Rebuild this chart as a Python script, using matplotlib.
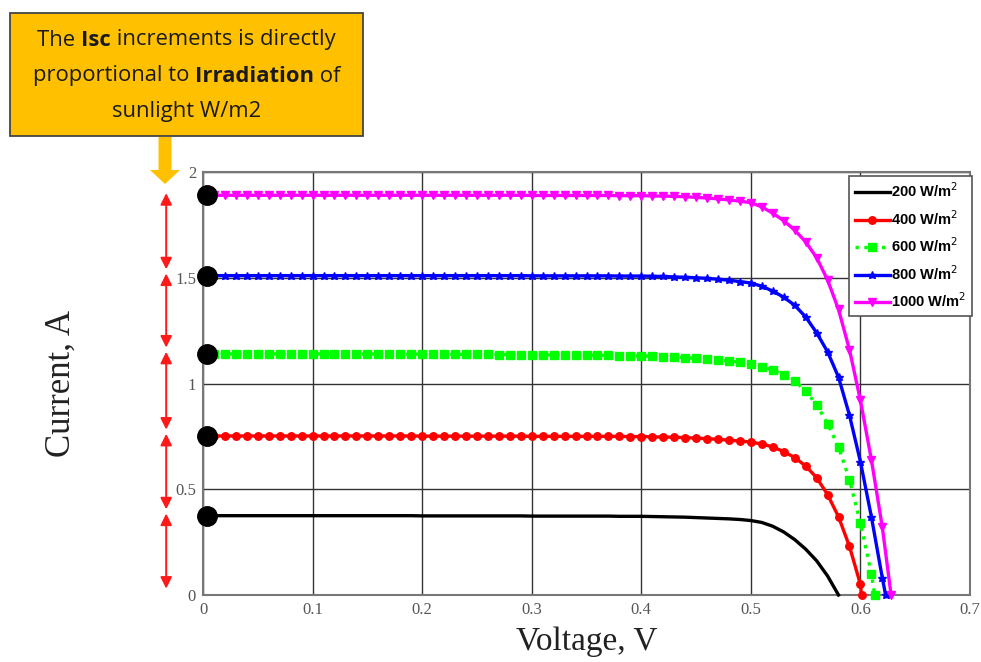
import matplotlib
matplotlib.use("Agg")
import matplotlib.pyplot as plt
from matplotlib.patches import FancyArrow, Rectangle

# Voltaje (V), paso de 0.01
voltage = [0.00, 0.01, 0.02, 0.03, 0.04, 0.05, 0.06, 0.07, 0.08, 0.09,
           0.10, 0.11, 0.12, 0.13, 0.14, 0.15, 0.16, 0.17, 0.18, 0.19,
           0.20, 0.21, 0.22, 0.23, 0.24, 0.25, 0.26, 0.27, 0.28, 0.29,
           0.30, 0.31, 0.32, 0.33, 0.34, 0.35, 0.36, 0.37, 0.38, 0.39,
           0.40, 0.41, 0.42, 0.43, 0.44, 0.45, 0.46, 0.47, 0.48, 0.49,
           0.50, 0.51, 0.52, 0.53, 0.54, 0.55, 0.56, 0.57, 0.58, 0.59,
           0.60, 0.61, 0.62]

# Corriente (A)
i_200 = [0.375, 0.375, 0.375, 0.375, 0.375, 0.375, 0.375, 0.375, 0.375, 0.375,
         0.375, 0.375, 0.375, 0.375, 0.375, 0.375, 0.375, 0.375, 0.375, 0.375,
         0.374, 0.374, 0.374, 0.374, 0.374, 0.374, 0.374, 0.374, 0.374, 0.374,
         0.373, 0.373, 0.373, 0.373, 0.373, 0.373, 0.373, 0.373, 0.372, 0.372,
         0.372, 0.371, 0.370, 0.369, 0.368, 0.366, 0.364, 0.362, 0.360, 0.357,
         0.352, 0.343, 0.325, 0.298, 0.262, 0.217, 0.162, 0.090]
i_400 = [0.752, 0.752, 0.752, 0.752, 0.752, 0.752, 0.752, 0.752, 0.752, 0.752,
         0.752, 0.752, 0.752, 0.752, 0.752, 0.752, 0.752, 0.752, 0.752, 0.752,
         0.751, 0.751, 0.751, 0.751, 0.751, 0.751, 0.751, 0.751, 0.751, 0.751,
         0.750, 0.750, 0.750, 0.750, 0.750, 0.750, 0.750, 0.750, 0.750, 0.749,
         0.749, 0.748, 0.747, 0.746, 0.744, 0.742, 0.739, 0.736, 0.732, 0.728,
         0.723, 0.714, 0.700, 0.678, 0.650, 0.610, 0.555, 0.475, 0.370, 0.230,
         0.050]
i_600 = [1.140, 1.140, 1.140, 1.140, 1.140, 1.140, 1.140, 1.140, 1.140, 1.140,
         1.140, 1.140, 1.140, 1.140, 1.140, 1.140, 1.140, 1.140, 1.139, 1.139,
         1.139, 1.139, 1.139, 1.138, 1.138, 1.138, 1.138, 1.137, 1.137, 1.137,
         1.136, 1.136, 1.135, 1.135, 1.134, 1.134, 1.133, 1.133, 1.132, 1.131,
         1.130, 1.129, 1.127, 1.125, 1.122, 1.119, 1.115, 1.111, 1.106, 1.100,
         1.094, 1.080, 1.063, 1.042, 1.013, 0.965, 0.900, 0.810, 0.700, 0.545,
         0.340, 0.100]
i_800 = [1.510, 1.510, 1.510, 1.510, 1.510, 1.510, 1.510, 1.510, 1.510, 1.510,
         1.510, 1.510, 1.510, 1.510, 1.510, 1.510, 1.510, 1.510, 1.510, 1.510,
         1.510, 1.510, 1.510, 1.510, 1.510, 1.510, 1.510, 1.510, 1.510, 1.510,
         1.509, 1.509, 1.509, 1.509, 1.509, 1.509, 1.509, 1.509, 1.508, 1.508,
         1.508, 1.507, 1.506, 1.504, 1.502, 1.500, 1.497, 1.493, 1.488, 1.482,
         1.475, 1.460, 1.437, 1.408, 1.370, 1.315, 1.240, 1.150, 1.030, 0.850,
         0.630, 0.370, 0.080]
i_1000 = [1.890, 1.890, 1.890, 1.890, 1.890, 1.890, 1.890, 1.890, 1.890, 1.890,
          1.890, 1.890, 1.890, 1.890, 1.890, 1.890, 1.890, 1.890, 1.890, 1.890,
          1.890, 1.890, 1.890, 1.890, 1.890, 1.890, 1.890, 1.890, 1.890, 1.890,
          1.889, 1.889, 1.889, 1.889, 1.889, 1.889, 1.889, 1.889, 1.888, 1.888,
          1.888, 1.887, 1.886, 1.885, 1.883, 1.880, 1.877, 1.873, 1.868, 1.862,
          1.855, 1.835, 1.805, 1.770, 1.725, 1.670, 1.595, 1.490, 1.350, 1.160,
          0.920, 0.640, 0.320]

# Voltaje de circuito abierto de cada curva
voc = [0.580, 0.601, 0.613, 0.623, 0.628]

etiquetas = ["200 W/m$^2$", "400 W/m$^2$", "600 W/m$^2$", "800 W/m$^2$", "1000 W/m$^2$"]
corrientes = [i_200, i_400, i_600, i_800, i_1000]
colores = ["#000000", "#ff0000", "#00ff00", "#0000ff", "#ff00ff"]
estilos = ["-", "-", ":", "-", "-"]
marcadores = [None, "o", "s", "*", "v"]
tamanos = [0, 5.4, 5.4, 6.2, 5.4]

fig = plt.figure(figsize=(9.81, 6.62), dpi=100)
ax = fig.add_axes([203 / 981, 67 / 662, 767 / 981, 423 / 662])

for corr, vo, lab, col, ls, mk, ms in zip(corrientes, voc, etiquetas, colores, estilos, marcadores, tamanos):
    v = voltage[:len(corr)] + [vo]
    i = corr + [0.0]
    ax.plot(v, i, color=col, linestyle=ls, linewidth=2.4, marker=mk,
            markersize=ms, label=lab, clip_on=False, zorder=3)

# Puntos negros de Isc
for corr in corrientes:
    ax.plot(0.004, corr[0], "o", color="black", markersize=14, clip_on=False, zorder=5)

ax.set_xlim(0, 0.7)
ax.set_ylim(0, 2)
ax.set_xticks([0, 0.1, 0.2, 0.3, 0.4, 0.5, 0.6, 0.7])
ax.set_xticklabels(["0", "0.1", "0.2", "0.3", "0.4", "0.5", "0.6", "0.7"])
ax.set_yticks([0, 0.5, 1, 1.5, 2])
ax.set_yticklabels(["0", "0.5", "1", "1.5", "2"])
ax.grid(True, color="#333333", linewidth=1.0)
ax.set_axisbelow(True)
for s in ax.spines.values():
    s.set_color("#777777")
    s.set_linewidth(1.5)
ax.tick_params(length=0, labelsize=12, labelcolor="#555555", pad=5)
for t in ax.get_xticklabels() + ax.get_yticklabels():
    t.set_fontfamily("Liberation Serif")

ax.set_xlabel("Voltage, V", fontsize=24, fontfamily="Liberation Serif", color="#222222", labelpad=6)
ax.set_ylabel("Current, A", fontsize=25, fontfamily="Liberation Serif", color="#222222", labelpad=70)

leg = ax.legend(loc="upper right", bbox_to_anchor=(1.003, 0.991),
                prop={"family": "Liberation Sans", "weight": "bold", "size": 10.5},
                frameon=True, fancybox=False, framealpha=1, edgecolor="#555555",
                handlelength=2.4, handletextpad=0.1, labelspacing=0.6,
                borderpad=0.4, borderaxespad=0)
leg.get_frame().set_linewidth(1.2)

# Flechas rojas dobles entre niveles de Isc
niveles = [0.0] + [c[0] for c in corrientes]
for k in range(5):
    y0 = niveles[k] + 0.03
    y1 = niveles[k + 1] + 0.01
    ax.annotate("", xy=(-0.048, y1), xytext=(-0.048, y0),
                xycoords=ax.get_yaxis_transform(), textcoords=ax.get_yaxis_transform(),
                arrowprops=dict(arrowstyle="<|-|>", color="#ff1a1a", lw=1.4,
                                mutation_scale=17, shrinkA=0, shrinkB=0),
                annotation_clip=False)

# Recuadro naranja con texto
fig.add_artist(Rectangle((10 / 981, 1 - 136 / 662), 353 / 981, 123 / 662,
                         transform=fig.transFigure, facecolor="#ffc000",
                         edgecolor="#444444", linewidth=1.3))
lineas = [[("The ", False), ("Isc", True), (" increments is directly", False)],
          [("proportional to ", False), ("Irradiation", True), (" of", False)],
          [("sunlight W/m2", False)]]
ys = [40, 76, 111]
renderer = fig.canvas.get_renderer()
for partes, yp in zip(lineas, ys):
    textos = []
    for txt, neg in partes:
        t = fig.text(0, 1 - yp / 662, txt, fontsize=15.8, fontfamily="Open Sans",
                     fontweight="bold" if neg else "normal", color="#1a1a1a",
                     va="center", ha="left")
        textos.append(t)
    anchos = [t.get_window_extent(renderer).width for t in textos]
    x = (186.5 - sum(anchos) / 2) / 981
    for t, w in zip(textos, anchos):
        t.set_x(x)
        x += w / 981

# Flecha naranja hacia abajo
fig.add_artist(FancyArrow(165 / 981, 1 - 137 / 662, 0, -47 / 662, width=13 / 981,
                          head_width=30 / 981, head_length=14 / 662,
                          length_includes_head=True, transform=fig.transFigure,
                          color="#ffc000", linewidth=0))

plt.savefig("out.png", dpi=100)
